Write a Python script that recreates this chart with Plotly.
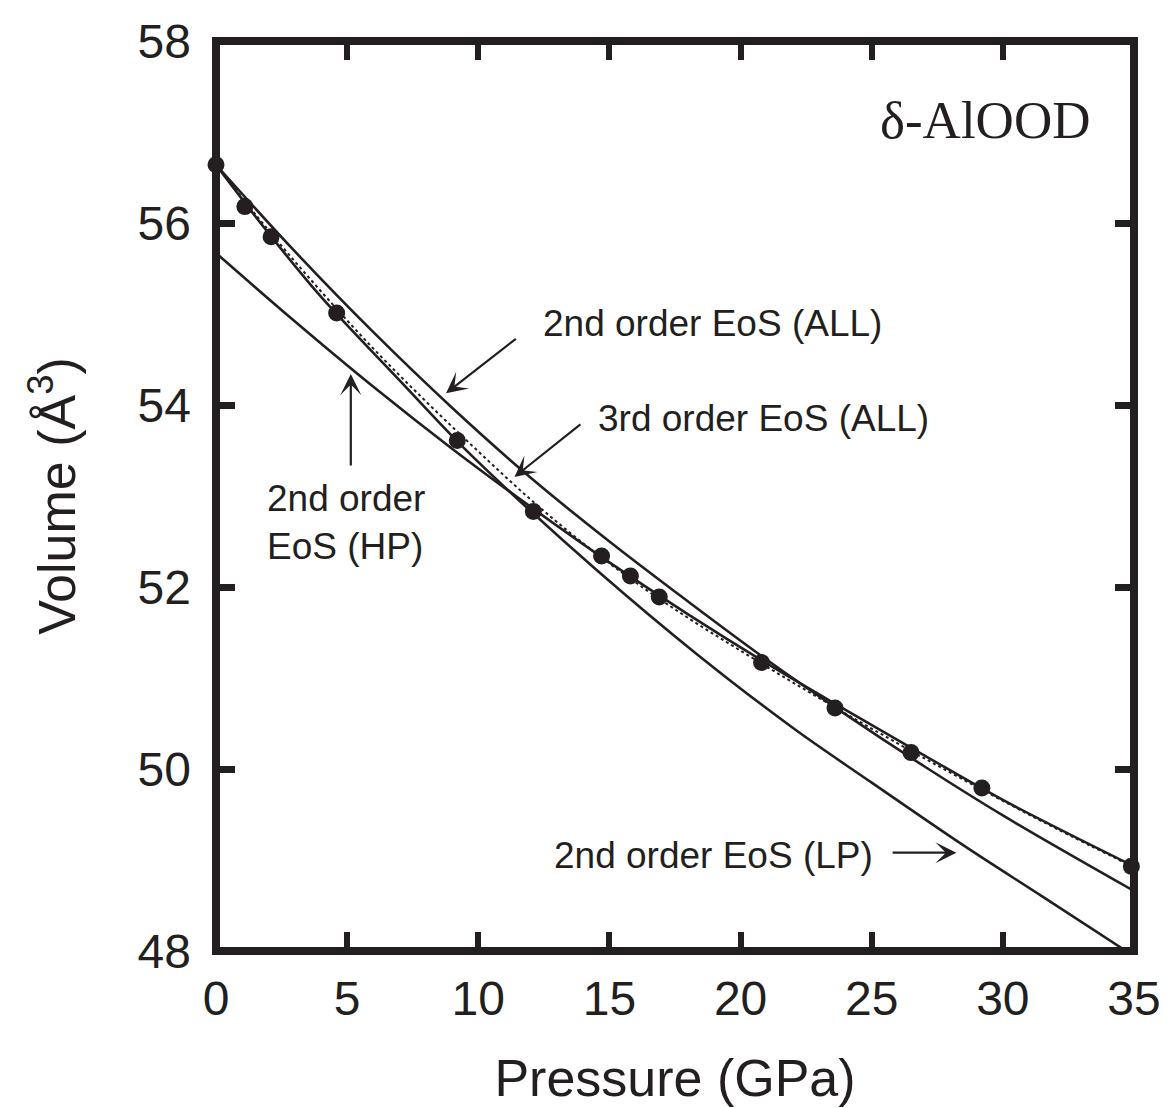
import plotly.graph_objects as go

# Measured P-V data for delta-AlOOD
pressure = [0.0, 1.1, 2.1, 4.6, 9.2, 12.1, 14.7, 15.8, 16.9, 20.8, 23.6, 26.5, 29.2, 34.9]
volume = [56.64, 56.18, 55.85, 55.01, 53.61, 52.83, 52.34, 52.12, 51.89, 51.17, 50.67, 50.18, 49.79, 48.93]

# Equation-of-state curves (sampled along each fitted curve)
p_all2 = [0, 3, 6, 9, 12, 15, 18, 21, 24, 27, 30, 35]
v_all2 = [56.64, 55.69, 54.80, 53.97, 53.20, 52.50, 51.84, 51.20, 50.60, 50.03, 49.49, 48.66]

p_all3 = [0, 2, 4, 6, 8, 10, 12, 14, 16, 18, 20, 22, 24, 26, 28, 30, 32, 35]
v_all3 = [56.64, 55.92, 55.25, 54.62, 54.04, 53.49, 52.96, 52.48, 52.05, 51.66, 51.30,
          50.95, 50.61, 50.28, 49.96, 49.65, 49.35, 48.92]

p_hp = [0, 3, 6, 9, 12, 15, 18, 21, 24, 27, 30, 35]
v_hp = [55.67, 54.92, 54.20, 53.52, 52.88, 52.27, 51.70, 51.16, 50.65, 50.15, 49.66, 48.93]

p_lp = [0, 2, 4, 7, 9.2, 11, 14.5, 18.3, 22, 25, 28.5, 31.5, 34.7]
v_lp = [56.64, 55.89, 55.19, 54.27, 53.60, 53.10, 52.19, 51.27, 50.45, 49.85, 49.16, 48.60, 48.00]

x_ticks = [0, 5, 10, 15, 20, 25, 30, 35]
y_ticks = [48, 50, 52, 54, 56, 58]

INK = "#231f20"
SANS = "Liberation Sans, Arial, Helvetica, sans-serif"
SERIF = "Liberation Serif, Times New Roman, serif"

fig = go.Figure()

solid = dict(color=INK, width=2.6, shape="spline")
fig.add_trace(go.Scatter(x=p_all2, y=v_all2, mode="lines", line=solid, name="2nd order EoS (ALL)"))
fig.add_trace(go.Scatter(x=p_hp, y=v_hp, mode="lines", line=solid, name="2nd order EoS (HP)"))
fig.add_trace(go.Scatter(x=p_lp, y=v_lp, mode="lines", line=solid, name="2nd order EoS (LP)"))
fig.add_trace(go.Scatter(x=p_all3, y=v_all3, mode="lines",
                         line=dict(color=INK, width=2, dash="dot", shape="spline"),
                         name="3rd order EoS (ALL)"))
fig.add_trace(go.Scatter(x=pressure, y=volume, mode="markers", cliponaxis=False,
                         marker=dict(color=INK, size=17, line=dict(width=0)),
                         name="data"))

# Heavy frame around the plotting area (paper refs so it is not clipped)
fig.add_shape(type="rect", xref="paper", yref="paper", x0=0, x1=1, y0=0, y1=1,
              line=dict(color=INK, width=8), layer="below")

arrow = dict(showarrow=True, arrowhead=3, arrowsize=1.6, arrowwidth=2.2, arrowcolor=INK,
             axref="x", ayref="y", xref="x", yref="y", text="")
fig.add_annotation(x=8.77, y=54.13, ax=11.49, ay=54.74, **arrow)
fig.add_annotation(x=11.38, y=53.21, ax=13.95, ay=53.80, **arrow)
fig.add_annotation(x=28.23, y=49.08, ax=25.74, ay=49.08, **arrow)
fig.add_annotation(x=5.14, y=54.34, ax=5.14, ay=53.32, **arrow)

label_font = dict(family=SANS, size=37, color=INK)
fig.add_annotation(x=18.94, y=54.90, text="2nd order EoS (ALL)", showarrow=False,
                   font=label_font, xref="x", yref="y")
fig.add_annotation(x=20.86, y=53.85, text="3rd order EoS (ALL)", showarrow=False,
                   font=label_font, xref="x", yref="y")
fig.add_annotation(x=18.97, y=49.05, text="2nd order EoS (LP)", showarrow=False,
                   font=label_font, xref="x", yref="y")
fig.add_annotation(x=1.85, y=52.71, text="2nd order<br>EoS (HP)", showarrow=False,
                   font=label_font, xref="x", yref="y", xanchor="left", align="left")
fig.add_annotation(x=29.32, y=57.13, text="δ-AlOOD", showarrow=False,
                   font=dict(family=SERIF, size=53, color=INK), xref="x", yref="y")

fig.update_xaxes(range=[0, 35], tickvals=x_ticks, ticktext=[str(v) for v in x_ticks],
                 ticks="inside", ticklen=19, tickwidth=6, tickcolor=INK, mirror="ticks",
                 showline=False, showgrid=False, zeroline=False, ticklabelstandoff=15,
                 tickfont=dict(family=SANS, size=48, color=INK),
                 title=dict(text="Pressure (GPa)", font=dict(family=SANS, size=52, color=INK),
                            standoff=35))
fig.update_yaxes(range=[48, 58], tickvals=y_ticks, ticktext=[str(v) for v in y_ticks],
                 ticks="inside", ticklen=19, tickwidth=7, tickcolor=INK, mirror="ticks",
                 showline=False, showgrid=False, zeroline=False, ticklabelstandoff=24,
                 tickfont=dict(family=SANS, size=48, color=INK),
                 title=dict(text="Volume (Å<sup>3</sup>)", font=dict(family=SANS, size=52, color=INK),
                            standoff=45))

fig.update_layout(width=1173, height=1108, showlegend=False,
                  margin=dict(l=216, r=31, t=41, b=157),
                  paper_bgcolor="white", plot_bgcolor="white")

fig.write_html("out.html")
